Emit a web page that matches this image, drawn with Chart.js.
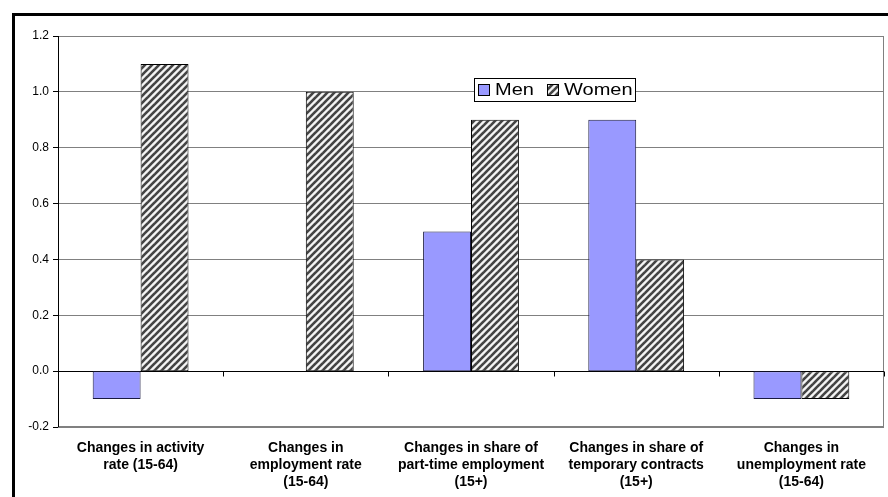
<!DOCTYPE html>
<html>
<head>
<meta charset="utf-8">
<script src="https://cdn.jsdelivr.net/npm/chart.js@4.4.1/dist/chart.umd.min.js"></script>
<style>
  html, body { margin: 0; padding: 0; background: #fff; }
  #wrap { position: relative; width: 888px; height: 497px; overflow: hidden; }
  #frame {
    position: absolute; left: 12px; top: 13px; width: 900px; height: 500px;
    border-top: 3px solid #000; border-left: 3px solid #000;
  }
  canvas { position: absolute; left: 0; top: 0; }
</style>
</head>
<body>
<div id="wrap">
  <div id="frame"></div>
  <canvas id="chart" width="888" height="497"></canvas>
</div>
<script>
const categories = [
  ["Changes in activity", "rate (15-64)"],
  ["Changes in", "employment rate", "(15-64)"],
  ["Changes in share of", "part-time employment", "(15+)"],
  ["Changes in share of", "temporary contracts", "(15+)"],
  ["Changes in", "unemployment rate", "(15-64)"],
];
const menValues = [-0.1, 0, 0.5, 0.9, -0.1];
const womenValues = [1.1, 1.0, 0.9, 0.4, -0.1];
const seriesNames = ["Men", "Women"];

const FONT = "'Liberation Sans', Arial, sans-serif";

function hatchPattern() {
  const s = 7;
  const c = document.createElement("canvas");
  c.width = s;
  c.height = s;
  const g = c.getContext("2d");
  g.fillStyle = "#f4f4f4";
  g.fillRect(0, 0, s, s);
  g.strokeStyle = "#444";
  g.lineWidth = 2.6;
  for (let k = -1; k <= 1; k++) {
    g.beginPath();
    g.moveTo(k * s - 1, s + 1);
    g.lineTo(k * s + s + 1, -1);
    g.stroke();
  }
  return g.createPattern(c, "repeat");
}
const hatch = hatchPattern();

// frame around plot + zero line + category ticks hanging from zero
const framePlugin = {
  id: "frame",
  beforeDatasetsDraw(chart) {
    const { ctx, chartArea: a, scales } = chart;
    ctx.save();
    ctx.strokeStyle = "#808080";
    ctx.lineWidth = 1;
    ctx.strokeRect(a.left + 0.5, a.top + 0.5, a.right - a.left - 1, a.bottom - a.top - 1);
    const y0 = Math.round(scales.y.getPixelForValue(0)) + 0.5;
    ctx.strokeStyle = "#000";
    ctx.beginPath();
    ctx.moveTo(a.left, y0);
    ctx.lineTo(a.right, y0);
    const n = categories.length;
    for (let i = 0; i <= n; i++) {
      const x = Math.round(a.left + (a.right - a.left) * i / n) + 0.5;
      ctx.moveTo(x, y0);
      ctx.lineTo(x, y0 + 5);
    }
    ctx.moveTo(a.left + 0.5, a.top);
    ctx.lineTo(a.left + 0.5, a.bottom);
    ctx.stroke();
    ctx.restore();
  },
};

const legendPlugin = {
  id: "boxLegend",
  afterDraw(chart) {
    const { ctx, chartArea: a } = chart;
    const x = a.left + 416, y = a.top + 42, w = 161, h = 23;
    ctx.save();
    ctx.fillStyle = "#fff";
    ctx.fillRect(x, y, w, h);
    ctx.strokeStyle = "#000";
    ctx.lineWidth = 1;
    ctx.strokeRect(x + 0.5, y + 0.5, w, h);
    ctx.textBaseline = "middle";
    const fills = ["#9999ff", hatch];
    const offs = [4, 73];
    seriesNames.forEach((name, i) => {
      const sx = x + offs[i];
      ctx.fillStyle = fills[i];
      ctx.fillRect(sx, y + 6, 11, 11);
      ctx.strokeStyle = "#000";
      ctx.strokeRect(sx + 0.5, y + 6.5, 11, 11);
      ctx.save();
      ctx.translate(sx + 17, y + 12.5);
      ctx.scale(1.25, 1);
      ctx.font = "16px " + FONT;
      ctx.fillStyle = "#000";
      ctx.fillText(name, 0, 0);
      ctx.restore();
    });
    ctx.restore();
  },
};

new Chart(document.getElementById("chart"), {
  type: "bar",
  data: {
    labels: categories,
    datasets: [
      {
        label: seriesNames[0],
        data: menValues,
        backgroundColor: "#9999ff",
        borderColor: "#1a1a40",
        borderWidth: 1,
        borderSkipped: false,
      },
      {
        label: seriesNames[1],
        data: womenValues,
        backgroundColor: hatch,
        borderColor: "#000",
        borderWidth: 1,
        borderSkipped: false,
      },
    ],
  },
  options: {
    responsive: false,
    animation: false,
    layout: { padding: { left: 15, top: 36, right: 4, bottom: 0 } },
    datasets: { bar: { categoryPercentage: 0.58, barPercentage: 1.0 } },
    scales: {
      x: {
        grid: { display: false },
        border: { display: false },
        ticks: {
          color: "#000",
          maxRotation: 0,
          autoSkip: false,
          padding: 5,
          font: { family: FONT, size: 14, weight: "bold", lineHeight: 1.2 },
        },
        afterFit: (s) => { s.height = 70; },
      },
      y: {
        min: -0.2,
        max: 1.2,
        border: { display: false },
        grid: {
          color: (c) => (c.tick && Math.abs(c.tick.value) < 1e-9 ? "rgba(0,0,0,0)" : "#808080"),
          tickColor: "#000",
          tickLength: 5,
        },
        ticks: {
          stepSize: 0.2,
          color: "#000",
          padding: 4,
          font: { family: FONT, size: 12 },
          callback: (v) => (Math.round(v * 10) / 10).toFixed(1),
        },
        afterFit: (s) => { s.width = 43; },
      },
    },
    plugins: {
      legend: { display: false },
      tooltip: { enabled: false },
    },
  },
  plugins: [framePlugin, legendPlugin],
});
</script>
</body>
</html>
